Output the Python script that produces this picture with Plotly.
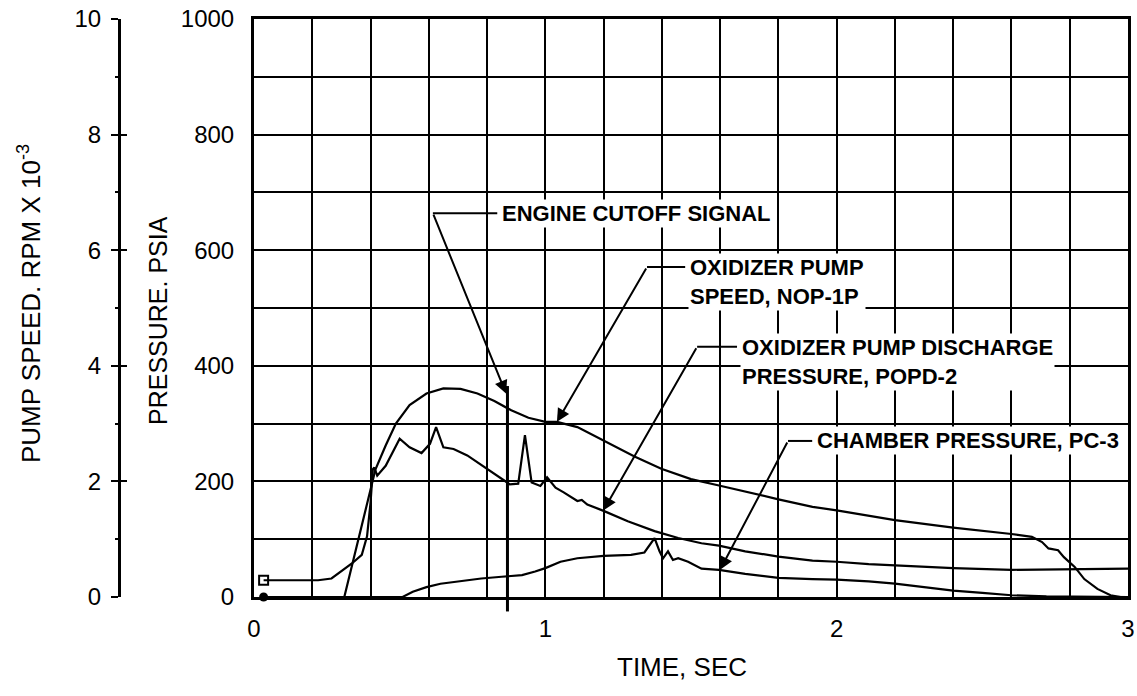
"""
Engine shutdown transient: pump speed and pressures vs time
"""
import plotly.graph_objects as go

# ---- data ----
# oxidizer pump speed NOP-1P (rpm x 10^-3)
speed_t = [0.31, 0.395, 0.417, 0.452, 0.487, 0.534, 0.592, 0.65, 0.709, 0.767,
           0.825, 0.883, 0.942, 1.0, 1.04, 1.11, 1.2, 1.306, 1.398, 1.5,
           1.596, 1.709, 1.8, 1.917, 2.0, 2.2, 2.4, 2.6, 2.67, 2.705,
           2.727, 2.76, 2.78, 2.817, 2.85, 2.895, 2.94, 2.975]
speed_krpm = [0.0, 1.80, 2.21, 2.62, 3.00, 3.32, 3.52, 3.61, 3.60, 3.52,
              3.39, 3.23, 3.10, 3.03, 3.03, 2.94, 2.71, 2.43, 2.22, 2.04,
              1.93, 1.79, 1.69, 1.56, 1.50, 1.33, 1.20, 1.09, 1.04, 0.95,
              0.84, 0.81, 0.69, 0.52, 0.31, 0.14, 0.03, 0.0]

# oxidizer pump discharge pressure POPD-2 (psia)
popd_t = [0.033, 0.1, 0.22, 0.266, 0.30, 0.336, 0.37, 0.388, 0.40, 0.408,
          0.413, 0.423, 0.452, 0.5, 0.534, 0.575, 0.604, 0.625, 0.65, 0.685,
          0.732, 0.802, 0.849, 0.878, 0.907, 0.93, 0.953, 0.983, 1.006, 1.035,
          1.063, 1.11, 1.125, 1.144, 1.2, 1.283, 1.375, 1.456, 1.536, 1.596,
          1.686, 1.8, 1.917, 2.0, 2.11, 2.2, 2.4, 2.6, 2.8, 3.0]
popd_psia = [29, 29, 29, 32, 44, 58, 73, 105, 163, 221,
             224, 210, 227, 274, 259, 249, 265, 294, 259, 256,
             245, 221, 204, 195, 196, 280, 198, 192, 207, 189,
             181, 166, 168, 160, 149, 131, 114, 102, 93, 89,
             79, 70, 63, 61, 57, 55, 50, 47, 48, 49]

# chamber pressure PC-3 (psia)
pc_t = [0.033, 0.3, 0.51, 0.545, 0.592, 0.64, 0.709, 0.78, 0.85, 0.92,
        0.965, 1.0, 1.052, 1.11, 1.2, 1.294, 1.34, 1.363, 1.375, 1.392,
        1.404, 1.421, 1.438, 1.456, 1.49, 1.536, 1.596, 1.686, 1.8, 1.917,
        2.0, 2.11, 2.2, 2.3, 2.4, 2.5, 2.6, 2.72, 3.0]
pc_psia = [0, 0, 0, 9, 17, 23, 28, 32, 35, 38,
           44, 50, 61, 67, 71, 73, 77, 93, 102, 79,
           67, 79, 64, 67, 61, 49, 47, 40, 33, 31,
           30, 27, 23, 17, 11, 7, 3, 1, 0]

# engine cutoff signal trace (time, top of trace in psia)
cutoff_t = [0.87, 0.87]
cutoff_psia = [0, 365]

x_ticks = [0, 1, 2, 3]
p_ticks = [0, 200, 400, 600, 800, 1000]
s_ticks = [0, 2, 4, 6, 8, 10]

# callouts: text, text anchor (t, psia), elbow (t, psia), arrow tip (t, psia)
callouts = [
    ("ENGINE CUTOFF SIGNAL", (0.845, 664), (0.614, 664), (0.865, 352)),
    ("OXIDIZER PUMP<br>SPEED, NOP-1P", (1.49, 545), (1.349, 571), (1.04, 303)),
    ("OXIDIZER PUMP DISCHARGE<br>PRESSURE, POPD-2", (1.668, 407), (1.521, 433), (1.2, 150)),
    ("CHAMBER PRESSURE, PC-3", (1.926, 270), (1.833, 270), (1.6, 47)),
]

TXT_FONT = "Liberation Sans, Arial"
INK = "black"

# page geometry (px): plot box 254..1128 x 19..597
ML, MT = 4, 19
MR = 1137 - 1128
MB = 696 - 597
PAPER_W = 1137 - ML - MR


def px_to_paper_x(px):
    return (px - ML) / PAPER_W


def py_to_paper_y(py):
    return (597 - py) / 578


fig = go.Figure()

fig.add_trace(go.Scatter(x=speed_t, y=speed_krpm, mode="lines", yaxis="y2",
                         line=dict(color=INK, width=2.2), name="NOP-1P"))
fig.add_trace(go.Scatter(x=popd_t, y=popd_psia, mode="lines",
                         line=dict(color=INK, width=2.2), name="POPD-2"))
fig.add_trace(go.Scatter(x=pc_t, y=pc_psia, mode="lines",
                         line=dict(color=INK, width=2.2), name="PC-3"))
fig.add_trace(go.Scatter(x=cutoff_t, y=cutoff_psia, mode="lines",
                         line=dict(color=INK, width=3), name="cutoff"))
# start-of-record symbols
fig.add_trace(go.Scatter(x=[popd_t[0]], y=[popd_psia[0]], mode="markers",
                         marker=dict(symbol="square-open", size=9, color=INK,
                                     line=dict(width=2)), cliponaxis=False))
fig.add_trace(go.Scatter(x=[pc_t[0]], y=[pc_psia[0]], mode="markers",
                         marker=dict(symbol="circle", size=9, color=INK),
                         cliponaxis=False))
# invisible trace so the inner tick half of the pump-speed scale is drawn
fig.add_trace(go.Scatter(x=[0, 3], y=[0, 10], yaxis="y3", mode="lines",
                         line=dict(width=0), hoverinfo="skip", showlegend=False))

# cutoff trace continues a little below the time axis
fig.add_shape(type="line", xref="x", yref="paper", x0=cutoff_t[0], x1=cutoff_t[0],
              y0=-0.025, y1=0, line=dict(color=INK, width=3))

for text, (tx, ty), (ex, ey), (px, py) in callouts:
    fig.add_shape(type="line", xref="x", yref="y", x0=ex, y0=ey, x1=tx - 0.01, y1=ey,
                  line=dict(color=INK, width=2))
    fig.add_annotation(x=px, y=py, ax=ex, ay=ey, xref="x", yref="y",
                       axref="x", ayref="y", text="", showarrow=True,
                       arrowhead=2, arrowsize=1.3, arrowwidth=2, arrowcolor=INK)
    fig.add_annotation(x=tx, y=ty, xref="x", yref="y", text=text, showarrow=False,
                       xanchor="left", yanchor="middle", align="left",
                       bgcolor="white", borderpad=1,
                       font=dict(family=TXT_FONT, size=22, color=INK, weight="bold"))

# axis titles
fig.add_annotation(x=px_to_paper_x(29), y=py_to_paper_y(304), xref="paper", yref="paper",
                   text="PUMP SPEED. RPM X 10<sup>-3</sup>", textangle=-90,
                   xanchor="center", yanchor="middle", showarrow=False,
                   font=dict(family=TXT_FONT, size=26, color=INK))
fig.add_annotation(x=px_to_paper_x(158), y=py_to_paper_y(321), xref="paper", yref="paper",
                   text="PRESSURE. PSIA", textangle=-90,
                   xanchor="center", yanchor="middle", showarrow=False,
                   font=dict(family=TXT_FONT, size=25, color=INK))
fig.add_annotation(x=px_to_paper_x(682), y=py_to_paper_y(667), xref="paper", yref="paper",
                   text="TIME, SEC", xanchor="center", yanchor="middle",
                   showarrow=False, font=dict(family=TXT_FONT, size=26, color=INK))

tick_font = dict(family=TXT_FONT, size=24, color=INK)
pump_pos = px_to_paper_x(119)

fig.update_layout(
    width=1137, height=696,
    margin=dict(l=ML, r=MR, t=MT, b=MB),
    paper_bgcolor="white", plot_bgcolor="white",
    showlegend=False,
    xaxis=dict(domain=[px_to_paper_x(254), 1], range=[0, 3], tickvals=x_ticks,
               showgrid=True, gridcolor=INK, gridwidth=1.6,
               minor=dict(dtick=0.2, showgrid=True, gridcolor=INK, gridwidth=1.6),
               showline=True, linecolor=INK, linewidth=3, mirror=True,
               ticks="", ticklabelstandoff=8, zeroline=False, automargin=False,
               ticklabeloverflow="allow", tickfont=tick_font),
    yaxis=dict(range=[0, 1000], tickvals=p_ticks,
               showgrid=True, gridcolor=INK, gridwidth=1.6,
               minor=dict(dtick=100, showgrid=True, gridcolor=INK, gridwidth=1.6),
               showline=True, linecolor=INK, linewidth=3, mirror=True,
               ticks="", ticklabelstandoff=12, zeroline=False, automargin=False,
               ticklabeloverflow="allow", tickfont=tick_font),
    yaxis2=dict(range=[0, 10], tickvals=s_ticks, overlaying="y", anchor="free",
                side="left", position=pump_pos, showgrid=False, zeroline=False,
                showline=True, linecolor=INK, linewidth=3, automargin=False,
                ticks="outside", ticklen=7, tickwidth=2, tickcolor=INK,
                minor=dict(dtick=1, ticks="outside", ticklen=3, tickwidth=2, tickcolor=INK),
                ticklabelstandoff=5, ticklabeloverflow="allow",
                tickfont=tick_font),
    yaxis3=dict(range=[0, 10], tickvals=s_ticks, overlaying="y", anchor="free",
                side="left", position=pump_pos, showgrid=False, zeroline=False,
                showline=False, automargin=False, showticklabels=False,
                ticks="inside", ticklen=7, tickwidth=2, tickcolor=INK),
)

# drop the browser's default body margin so the figure sits at the page corner
fig.write_html("out.html", config={"displayModeBar": False},
               post_script="document.body.style.margin = '0';")
